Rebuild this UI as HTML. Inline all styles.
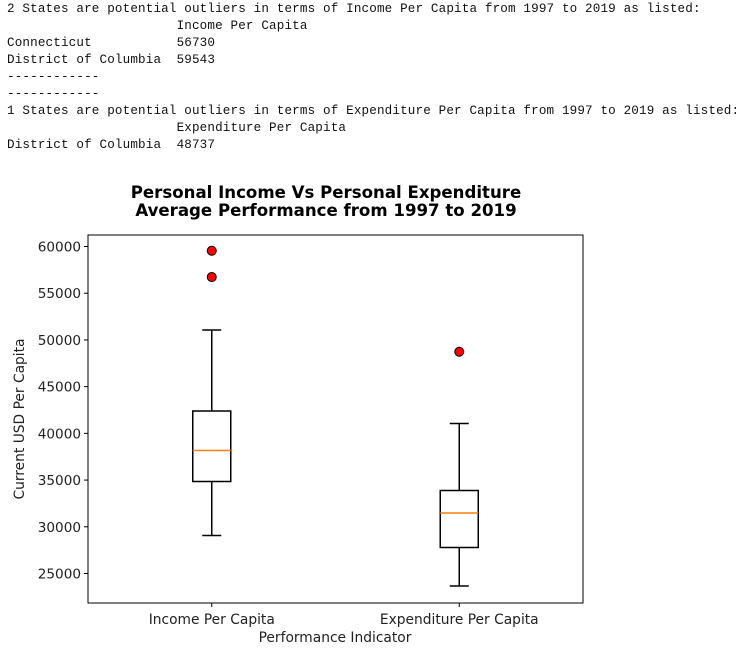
<!DOCTYPE html>
<html><head><meta charset="utf-8"><style>
body{margin:0;background:#fff;width:743px;height:654px;overflow:hidden;position:relative}
pre{position:absolute;left:7px;top:1px;margin:0;font-family:"Liberation Mono","DejaVu Sans Mono",monospace;font-size:12.6px;letter-spacing:0.15px;line-height:17px;color:#111}
svg{position:absolute;left:0;top:0}
</style></head><body>
<pre>2 States are potential outliers in terms of Income Per Capita from 1997 to 2019 as listed:
                      Income Per Capita
Connecticut           56730
District of Columbia  59543
------------
------------
1 States are potential outliers in terms of Expenditure Per Capita from 1997 to 2019 as listed:
                      Expenditure Per Capita
District of Columbia  48737</pre>
<svg id="chart" width="743" height="654" font-family="DejaVu Sans, Liberation Sans, sans-serif"></svg>
<script>
const categories=["Income Per Capita","Expenditure Per Capita"];
const whiskerLow=[29068,23663];
const q1=[34848,27784];
const median=[38165,31475];
const q3=[42393,33884];
const whiskerHigh=[51063,41055];
const outliers=[[56730,59543],[48737]];
const yTicks=[25000,30000,35000,40000,45000,50000,55000,60000];

const svg=document.getElementById('chart');
const NS='http://www.w3.org/2000/svg';
const L=88,R=583,T=235,B=603;
const vMin=21843,vMax=61231;
function y(v){return B-(v-vMin)/(vMax-vMin)*(B-T);}
function x(i){return L+(R-L)*(i+0.5)/categories.length;}
function mk(tag,attrs,name){const e=document.createElementNS(NS,tag);for(const k in attrs)e.setAttribute(k,attrs[k]);


svg.appendChild(e);return e;}
function txt(s,attrs,name){const e=mk('text',attrs,name);e.textContent=s;return e;}

txt('Personal Income Vs Personal Expenditure',{x:326,y:198,'text-anchor':'middle','font-size':'16.6px','font-weight':'bold',fill:'#000'},'chart-title-line1');
txt('Average Performance from 1997 to 2019',{x:326,y:216,'text-anchor':'middle','font-size':'16.6px','font-weight':'bold',fill:'#000'},'chart-title-line2');

yTicks.forEach(v=>{
  mk('line',{x1:L-4,x2:L,y1:y(v),y2:y(v),stroke:'#000','stroke-width':1},'y-tick');
  txt(String(v),{x:L-7,y:y(v)+5,'text-anchor':'end','font-size':'13.6px',fill:'#222'},'y-tick-label');
});
categories.forEach((c,i)=>{
  const cx=x(i);
  mk('line',{x1:cx,x2:cx,y1:B,y2:B+4,stroke:'#000'},'x-tick');
  txt(c,{x:cx,y:B+21,'text-anchor':'middle','font-size':'13.8px',fill:'#222'},'x-tick-label');
  const bw=38,cw=19;
  mk('line',{x1:cx,x2:cx,y1:y(whiskerLow[i]),y2:y(q1[i]),stroke:'#000','stroke-width':1.5},'whisker-low');
  mk('line',{x1:cx,x2:cx,y1:y(q3[i]),y2:y(whiskerHigh[i]),stroke:'#000','stroke-width':1.5},'whisker-high');
  mk('line',{x1:cx-cw/2,x2:cx+cw/2,y1:y(whiskerLow[i]),y2:y(whiskerLow[i]),stroke:'#000','stroke-width':1.5},'cap-low');
  mk('line',{x1:cx-cw/2,x2:cx+cw/2,y1:y(whiskerHigh[i]),y2:y(whiskerHigh[i]),stroke:'#000','stroke-width':1.5},'cap-high');
  mk('rect',{x:cx-bw/2,y:y(q3[i]),width:bw,height:y(q1[i])-y(q3[i]),fill:'none',stroke:'#000','stroke-width':1.5},'box');
  mk('line',{x1:cx-bw/2,x2:cx+bw/2,y1:y(median[i]),y2:y(median[i]),stroke:'#ff7f0e','stroke-width':1.5},'median-line');
  outliers[i].forEach(v=>mk('circle',{cx:cx,cy:y(v),r:4.5,fill:'#f00',stroke:'#000','stroke-width':1},'outlier-point'));
});
mk('rect',{x:L,y:T,width:R-L,height:B-T,fill:'none',stroke:'#000','stroke-width':1},'plot-frame');
txt('Performance Indicator',{x:335,y:642,'text-anchor':'middle','font-size':'13.8px',fill:'#222'},'x-axis-title');
txt('Current USD Per Capita',{x:0,y:0,transform:'translate(24,419) rotate(-90)','text-anchor':'middle','font-size':'13.8px',fill:'#222'},'y-axis-title');
</script>
</body></html>
